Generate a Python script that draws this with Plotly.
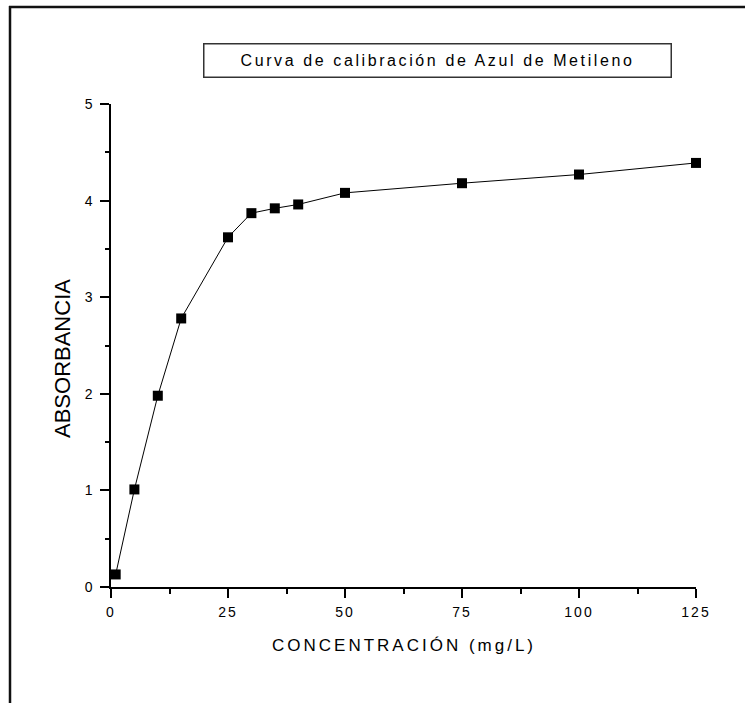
import plotly.graph_objects as go

# Data
conc = [1, 5, 10, 15, 25, 30, 35, 40, 50, 75, 100, 125]
absorb = [0.13, 1.01, 1.98, 2.78, 3.62, 3.87, 3.92, 3.96, 4.08, 4.18, 4.27, 4.39]
x_ticks = [0, 25, 50, 75, 100, 125]
y_ticks = [0, 1, 2, 3, 4, 5]
title_text = "Curva de calibración de Azul de Metileno"
x_title = "CONCENTRACIÓN (mg/L)"
y_title = "ABSORBANCIA"

FONT = "Liberation Sans, Arial, sans-serif"
W, H = 745, 703
ML, MR, MT, MB = 111, 49, 104, 116
PW, PH = W - ML - MR, H - MT - MB


def px(x):
    return (x - ML) / PW


def py(y):
    return (H - MB - y) / PH


def spaced(s, sp):
    return f'<span style="letter-spacing:{sp}px">{s}</span>'


fig = go.Figure()
fig.add_trace(go.Scatter(
    x=conc, y=absorb, mode="lines+markers",
    line=dict(color="black", width=1),
    marker=dict(symbol="square", size=10, color="black"),
    cliponaxis=False, showlegend=False,
))

axis_common = dict(
    showline=True, linecolor="black", linewidth=1.5,
    ticks="outside", ticklen=9, tickwidth=1.5, tickcolor="black",
    showgrid=False, zeroline=False, mirror=False,
    tickfont=dict(family=FONT, size=14, color="black"),
    automargin=False,
)

fig.update_xaxes(
    range=[0, 125], tickmode="array", tickvals=x_ticks,
    ticktext=[spaced(str(v), 2) for v in x_ticks],
    minor=dict(ticks="outside", ticklen=5, tickwidth=1.5, tickcolor="black", dtick=12.5, tick0=0, showgrid=False),
    ticklabelstandoff=2,
    **axis_common,
)
fig.update_yaxes(
    range=[0, 5], tickmode="array", tickvals=y_ticks,
    ticktext=[str(v) for v in y_ticks],
    minor=dict(ticks="outside", ticklen=4, tickwidth=1.5, tickcolor="black", dtick=0.5, tick0=0, showgrid=False),
    ticklabelstandoff=5,
    **axis_common,
)

annotations = [
    dict(text=spaced(title_text, 2.6), x=px(437), y=py(60.5), xref="paper", yref="paper",
         xanchor="center", yanchor="middle", showarrow=False,
         width=466, height=32, borderpad=0, bordercolor="#333", borderwidth=1.5,
         font=dict(family=FONT, size=16, color="black")),
    dict(text=spaced(x_title, 3), x=px(404), y=py(645), xref="paper", yref="paper",
         xanchor="center", yanchor="middle", showarrow=False,
         font=dict(family=FONT, size=17, color="black")),
    dict(text=y_title, x=px(62), y=py(359), xref="paper", yref="paper",
         xanchor="center", yanchor="middle", showarrow=False, textangle=-90,
         font=dict(family=FONT, size=22, color="black")),
]

shapes = [
    dict(type="line", xref="paper", yref="paper", x0=px(9), x1=px(750), y0=py(7), y1=py(7),
         line=dict(color="#111", width=2.5)),
    dict(type="line", xref="paper", yref="paper", x0=px(10), x1=px(10), y0=py(6), y1=py(710),
         line=dict(color="#111", width=2.5)),
]

fig.update_layout(
    width=W, height=H,
    margin=dict(l=ML, r=MR, t=MT, b=MB, pad=0),
    paper_bgcolor="white", plot_bgcolor="white",
    annotations=annotations, shapes=shapes,
    font=dict(family=FONT, color="black"),
)

fig.write_html("out.html")
